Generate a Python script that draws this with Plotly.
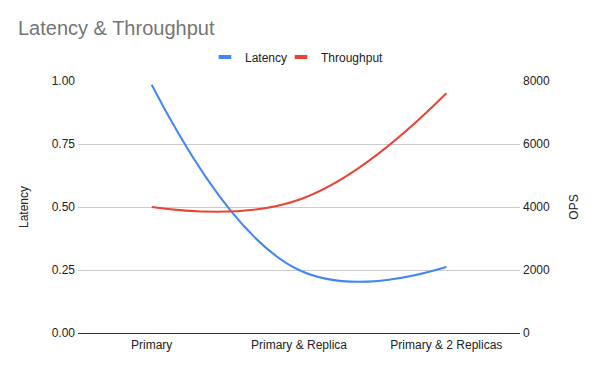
import plotly.graph_objects as go

categories = ["Primary", "Primary & Replica", "Primary & 2 Replicas"]
latency = [0.985, 0.25, 0.262]
throughput = [4000, 4230, 7610]
latency_ticks = [0, 0.25, 0.5, 0.75, 1.0]
ops_ticks = [0, 2000, 4000, 6000, 8000]

FONT = "Liberation Sans, Arial, sans-serif"
BLUE = "#4285F4"
RED = "#EA4335"

fig = go.Figure()
fig.add_trace(go.Scatter(
    x=categories, y=latency, name="Latency", mode="lines",
    line=dict(color=BLUE, width=2, shape="spline", smoothing=1.2),
    yaxis="y", showlegend=False,
))
fig.add_trace(go.Scatter(
    x=categories, y=throughput, name="Throughput", mode="lines",
    line=dict(color=RED, width=2, shape="spline", smoothing=1.2),
    yaxis="y2", showlegend=False,
))
# legend entries with short thick swatches, one legend per item for precise placement
for name, color, lg in [("Latency", BLUE, "legend"), ("Throughput", RED, "legend2")]:
    fig.add_trace(go.Scatter(
        x=[None], y=[None], name=name, mode="markers",
        marker=dict(symbol="line-ew", size=9, color=color, line=dict(width=4, color=color)),
        showlegend=True, legend=lg,
    ))

legend_common = dict(orientation="h", y=1.095, yanchor="middle", xanchor="left",
                     font=dict(family=FONT, size=12, color="#222222"),
                     bgcolor="rgba(0,0,0,0)", borderwidth=0)

fig.update_layout(
    width=600, height=371,
    margin=dict(l=70, r=88, t=73, b=46),
    paper_bgcolor="white", plot_bgcolor="white",
    font=dict(family=FONT, size=12, color="#222222"),
    title=dict(text="Latency & Throughput", x=10 / 600, xanchor="left", y=0.965, yanchor="top",
               font=dict(family=FONT, size=20, color="#757575")),
    showlegend=True,
    legend=dict(x=0.2873, **legend_common),
    legend2=dict(x=0.4593, **legend_common),
    xaxis=dict(type="category", range=[-0.5, 2.5], showgrid=False, showline=False,
               ticks="", zeroline=False, ticklabelstandoff=3,
               tickfont=dict(size=12, color="#222222")),
    yaxis=dict(range=[0, 1.0], tickvals=latency_ticks, tickformat=".2f",
               showgrid=True, gridcolor="#cccccc", gridwidth=1,
               zeroline=True, zerolinecolor="#333333", zerolinewidth=1,
               showline=False, ticks="", ticklabelstandoff=2,
               title=dict(text="Latency", font=dict(size=12, color="#222222"), standoff=20),
               tickfont=dict(size=12, color="#222222")),
    yaxis2=dict(range=[0, 8000], tickvals=ops_ticks, overlaying="y", side="right",
                showgrid=False, zeroline=False, showline=False, ticks="", ticklabelstandoff=2,
                title=dict(text="OPS", font=dict(size=12, color="#222222"), standoff=20),
                tickfont=dict(size=12, color="#222222")),
)

fig.write_html("out.html")
